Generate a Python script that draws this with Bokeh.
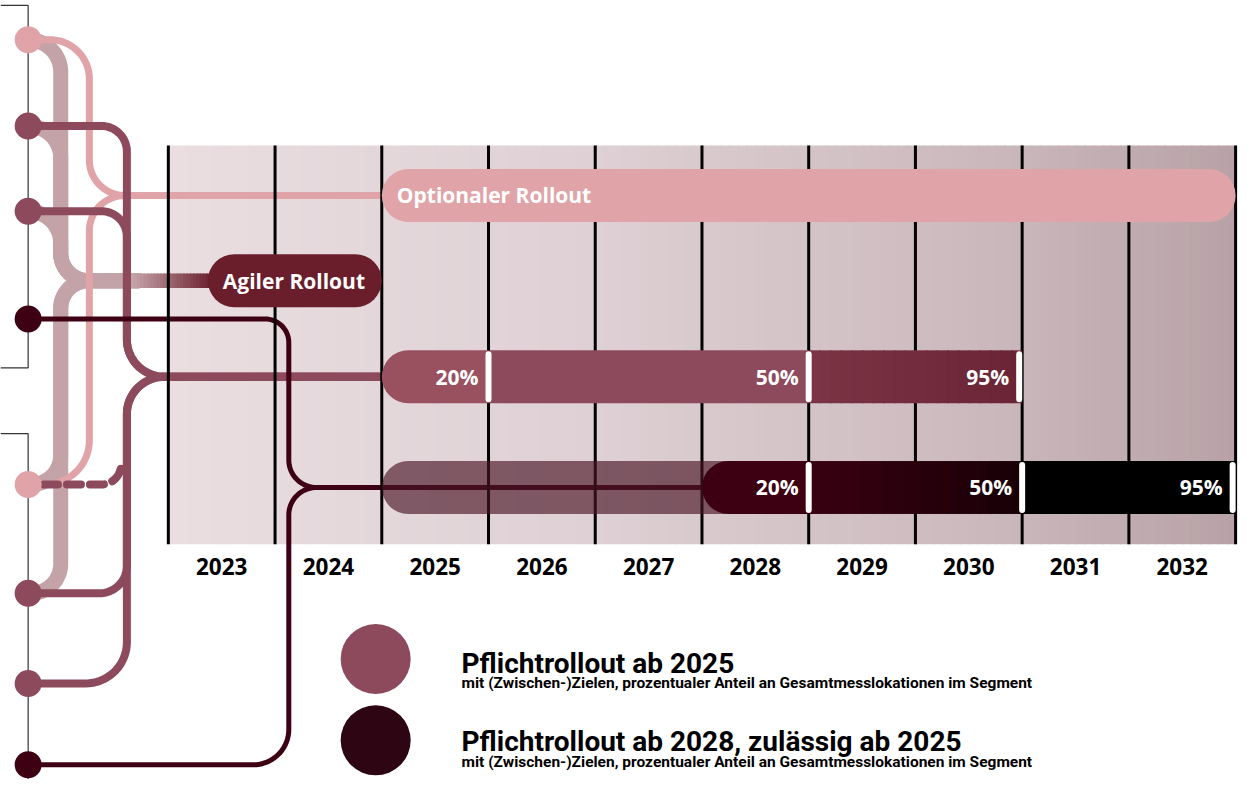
import numpy as np
from bokeh.plotting import figure
from bokeh.models import Range1d, ColumnDataSource
from bokeh.core.properties import value
from bokeh.embed import file_html
from bokeh.resources import INLINE

# ---------------- data ----------------
years = [2023, 2024, 2025, 2026, 2027, 2028, 2029, 2030, 2031, 2032]
year_labels = [str(y) for y in years]

rollout_names = ["Optionaler Rollout", "Agiler Rollout"]
rollout_left = [2024.5, 2022.87]      # bar start (axis units)
rollout_right = [2032.5, 2024.5]      # bar end (axis units)

# Pflichtrollout ab 2025: milestone years and targets
m25_start_year = 2025
m25_years = [2025, 2028, 2030]
m25_share = ["20%", "50%", "95%"]

# Pflichtrollout ab 2028, zulässig ab 2025
m28_allowed_year = 2025
m28_start_year = 2028
m28_years = [2028, 2030, 2032]
m28_share = ["20%", "50%", "95%"]

legend_titles = ["Pflichtrollout ab 2025", "Pflichtrollout ab 2028, zulässig ab 2025"]
legend_sub = ["mit (Zwischen-)Zielen, prozentualer Anteil an Gesamtmesslokationen im Segment"] * 2

# ---------------- styling ----------------
PINK = "#e0a3a8"
MAUVE = "#8d4a5c"
DARK = "#3e0013"
GREY = "#c4a3a8"
AGILE = "#6a1e2b"
FONT = value("Open Sans")
LEG_FONT = value("Roboto")

PX_PER_YEAR = 108.1          # reference pixels per year
OV = 1.5 / PX_PER_YEAR       # strip overlap


def px2x(px):
    return 2022.5 + (px - 170.0) / PX_PER_YEAR


p = figure(width=1243, height=779, output_backend="svg", toolbar_location=None,
           x_range=Range1d(px2x(0), px2x(1259)), y_range=Range1d(795, 0),
           x_axis_location=None, y_axis_location=None, min_border=0,
           outline_line_color=None, background_fill_color="white",
           border_fill_color="white")
p.grid.visible = False


def mix(c1, c2, t):
    return "#%02x%02x%02x" % tuple(int(round(a + (b - a) * t)) for a, b in zip(c1, c2))


def grad_strips(x0, x1, y0, y1, stops, n):
    """Vertical strips from x0 to x1 (axis units) with colors from stops [(pos, rgb)]"""
    edges = np.linspace(x0, x1, n + 1)
    cols = []
    for i in range(n):
        t = (i + 0.5) / n
        for (pa, ca), (pb, cb) in zip(stops[:-1], stops[1:]):
            if pa <= t <= pb:
                cols.append(mix(ca, cb, (t - pa) / (pb - pa)))
                break
    rights = edges[1:] + OV
    rights[-1] = edges[-1]
    src = ColumnDataSource(dict(left=edges[:-1], right=rights,
                                top=[y0] * n, bottom=[y1] * n, color=cols))
    p.quad(left="left", right="right", top="top", bottom="bottom", source=src,
           fill_color="color", line_color=None)


# background panel
grad_strips(years[0] - 0.5, years[-1] + 0.5, 148, 555,
            [(0, (234, 222, 225)), (0.4, (222, 208, 212)), (0.8, (201, 182, 186)), (1, (184, 162, 167))], 120)


def rpath(pts, radii):
    xs, ys = [pts[0][0]], [pts[0][1]]
    for i in range(1, len(pts) - 1):
        p0, p1, p2 = (np.array(pts[i - 1], float), np.array(pts[i], float), np.array(pts[i + 1], float))
        r = radii[i - 1]
        d1 = (p1 - p0) / np.linalg.norm(p1 - p0)
        d2 = (p2 - p1) / np.linalg.norm(p2 - p1)
        c = p1 - d1 * r + d2 * r
        th = np.linspace(0, np.pi / 2, 18)
        q = c[None, :] + r * (np.cos(th)[:, None] * (-d2)[None, :] + np.sin(th)[:, None] * d1[None, :])
        xs += list(q[:, 0])
        ys += list(q[:, 1])
    xs.append(pts[-1][0])
    ys.append(pts[-1][1])
    return [px2x(x) for x in xs], ys


def draw(pts, radii, color, width, dash="solid"):
    xs, ys = rpath(pts, radii)
    p.line(xs, ys, line_color=color, line_width=width, line_cap="round",
           line_join="round", line_dash=dash)


# node lanes (screen layout)
NX = 28
node_y = [40, 128, 215, 325, 494, 605, 697, 780]
node_c = [PINK, MAUVE, MAUVE, DARK, PINK, MAUVE, MAUVE, DARK]

# bracket lines
p.line([px2x(0), px2x(28), px2x(28), px2x(0)], [5, 5, 375, 375], line_color="#333333", line_width=1.2)
p.line([px2x(0), px2x(28), px2x(28)], [442, 442, 795], line_color="#333333", line_width=1.2)

# grey bundle to "Agiler Rollout"
GX = 61
for ny in [40, 128, 215]:
    draw([(NX, ny), (GX, ny), (GX, 286), (140, 286)], [33, 28], GREY, 15)
for ny in [494, 605]:
    draw([(NX, ny), (GX, ny), (GX, 286), (140, 286)], [30, 28], GREY, 15)
# gradient into agile pill
n = 24
ex = np.linspace(px2x(135), px2x(215), n + 1)
gcols = [mix((196, 163, 168), (106, 30, 43), (i + 0.5) / n) for i in range(n)]
p.quad(left=ex[:-1], right=ex[1:] + OV, top=[278.5] * n, bottom=[293.5] * n,
       fill_color=gcols, line_color=None)

# pink lines to optional rollout
draw([(NX, 40), (90, 40), (90, 199), (390, 199)], [40, 36], PINK, 7)
draw([(NX, 494), (90, 494), (90, 199), (390, 199)], [45, 36], PINK, 7)

# mauve lines to Pflichtrollout 2025
BAR_Y = [199, 286, 384, 497]
draw([(NX, 128), (128, 128), (128, 384), (390, 384)], [26, 38], MAUVE, 8)
draw([(NX, 215), (128, 215), (128, 384), (390, 384)], [26, 38], MAUVE, 8)
draw([(NX, 605), (128, 605), (128, 384), (390, 384)], [28, 38], MAUVE, 8)
draw([(NX, 697), (128, 697), (128, 384), (390, 384)], [42, 38], MAUVE, 8)
draw([(44, 494), (122, 494), (122, 480)], [20], MAUVE, 8, dash="14 9")

# dark lines to Pflichtrollout 2028
draw([(NX, 325), (292, 325), (292, 497), (712, 497)], [24, 28], DARK, 5)
draw([(NX, 780), (292, 780), (292, 497), (712, 497)], [36, 28], DARK, 5)

# nodes
p.scatter([px2x(NX)] * len(node_y), node_y, size=27, marker="circle",
          fill_color=node_c, line_color=None)

# year grid lines
bounds = [years[0] - 0.5] + [y + 0.5 for y in years]
p.segment(x0=bounds, x1=bounds, y0=[148] * len(bounds), y1=[555] * len(bounds),
          line_color="black", line_width=3)

# year labels
p.text(x=years, y=[578] * len(years), text=year_labels, text_align="center",
       text_baseline="middle", text_font=FONT, text_font_style="bold",
       text_font_size="22.5px", text_color="black")

H = 54
# optional rollout
p.hbar(y=[BAR_Y[0]], left=[rollout_left[0]], right=[rollout_right[0]], height=H,
       fill_color=PINK, line_color=None, border_radius=27)
# agile rollout
p.hbar(y=[BAR_Y[1]], left=[rollout_left[1]], right=[rollout_right[1]], height=H,
       fill_color=AGILE, line_color=None, border_radius=27)
p.text(x=rollout_left, y=[BAR_Y[0], BAR_Y[1]], text=rollout_names, x_offset=15,
       text_align="left", text_baseline="middle", text_font=FONT,
       text_font_style="bold", text_font_size="21px", text_color="white")

# Pflichtrollout ab 2025
m25_ends = [y + 0.5 for y in m25_years]
m25_starts = [m25_start_year - 0.5] + m25_ends[:-1]
yb = BAR_Y[2]
p.hbar(y=[yb], left=[m25_starts[0]], right=[m25_ends[0]], height=H,
       fill_color="#99505f", line_color=None, border_radius=(27, 0, 0, 27))
p.hbar(y=[yb], left=[m25_starts[1]], right=[m25_ends[1]], height=H,
       fill_color=MAUVE, line_color=None)
grad_strips(m25_starts[2], m25_ends[2], yb - H / 2, yb + H / 2,
            [(0, (122, 52, 68)), (1, (106, 36, 53))], 20)

# Pflichtrollout ab 2028 (allowed from 2025, translucent)
m28_ends = [y + 0.5 for y in m28_years]
m28_starts = [m28_start_year - 0.5] + m28_ends[:-1]
yb2 = BAR_Y[3]
p.hbar(y=[yb2], left=[m28_allowed_year - 0.5], right=[m28_starts[0] + 0.3], height=H,
       fill_color="#4a1526", fill_alpha=0.65, line_color=None, border_radius=(27, 0, 0, 27))
p.hbar(y=[yb2], left=[m28_starts[0]], right=[m28_ends[0]], height=H,
       fill_color="#3d0012", line_color=None, border_radius=(27, 0, 0, 27))
grad_strips(m28_starts[1], m28_ends[1], yb2 - H / 2, yb2 + H / 2,
            [(0, (58, 0, 17)), (1, (24, 0, 7))], 20)
p.hbar(y=[yb2], left=[m28_starts[2]], right=[m28_ends[2]], height=H,
       fill_color="black", line_color=None)

# separators & percent labels
sep_x = m25_ends[:-1] + [m25_ends[-1] - 3 / PX_PER_YEAR] + m28_ends[:-1] + [m28_ends[-1] - 3 / PX_PER_YEAR]
sep_y = [yb] * 3 + [yb2] * 3
p.rect(x=sep_x, y=sep_y, width=6, width_units="screen", height=H - 2,
       fill_color="white", line_color=None, border_radius=3)
p.text(x=sep_x, y=sep_y, text=m25_share + m28_share, x_offset=-10,
       text_align="right", text_baseline="middle", text_font=FONT,
       text_font_style="bold", text_font_size="21px", text_color="white")

# legend
p.scatter([px2x(380)] * 2, [672, 755], size=70, marker="circle",
          fill_color=[MAUVE, "#2e0512"], line_color=None)
p.text(x=[px2x(467)] * 2, y=[677, 756], text=legend_titles, text_align="left",
       text_baseline="alphabetic", text_font=LEG_FONT, text_font_style="bold",
       text_font_size="28px", text_color="black")
p.text(x=[px2x(467)] * 2, y=[697, 777], text=legend_sub, text_align="left",
       text_baseline="alphabetic", text_font=LEG_FONT, text_font_style="bold",
       text_font_size="15.5px", text_color="black")

open("out.html", "w").write(file_html(p, INLINE))
